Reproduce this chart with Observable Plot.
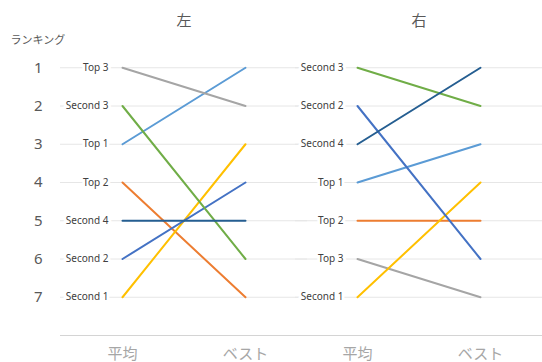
<!DOCTYPE html>
<html><head><meta charset="utf-8">
<script src="https://cdn.jsdelivr.net/npm/d3@7"></script>
<script src="https://cdn.jsdelivr.net/npm/@observablehq/plot@0.6"></script>
<style>body{margin:0;background:#fff}</style>
</head><body><div id="chart"></div>
<script>
const panels = ["左", "右"];
const stages = ["平均", "ベスト"];
const series = ["Top 1", "Top 2", "Top 3", "Second 1", "Second 2", "Second 3", "Second 4"];
const seriesColors = ["#5b9bd5", "#ed7d31", "#a5a5a5", "#ffc000", "#4472c4", "#70ad47", "#255e91"];
const leftAvg = [3, 4, 1, 7, 6, 2, 5];
const leftBest = [1, 7, 2, 3, 4, 6, 5];
const rightAvg = [4, 5, 6, 7, 2, 1, 3];
const rightBest = [3, 5, 7, 4, 6, 2, 1];
const ranks = [1, 2, 3, 4, 5, 6, 7];
const axisLabel = "ランキング";

const panelValues = {"左": [leftAvg, leftBest], "右": [rightAvg, rightBest]};
const rows = [];
panels.forEach(p => series.forEach((s, i) => stages.forEach((st, j) =>
  rows.push({panel: p, series: s, stage: st, rank: panelValues[p][j][i]}))));
const labelRows = rows.filter(d => d.stage === stages[0]);

const chart = Plot.plot({
  width: 542, height: 362,
  marginLeft: 66, marginRight: 6, marginTop: 29, marginBottom: 27,
  style: {fontFamily: "'Noto Sans', 'Noto Sans CJK JP', sans-serif", fontSize: "15px", color: "#595959", background: "#fff"},
  fx: {domain: panels, padding: 0, axis: null},
  x: {domain: stages, padding: 0.455, axis: null},
  y: {domain: [0, 8], reverse: true, ticks: ranks, tickSize: 0, tickPadding: 24, label: null},
  color: {domain: series, range: seriesColors},
  marks: [
    Plot.ruleY(ranks, {stroke: "#e6e6e6", insetLeft: -6, insetRight: -6}),
    Plot.ruleY([8], {stroke: "#d4d4d4", insetLeft: -6, insetRight: -6}),
    Plot.line(rows, {fx: "panel", x: "stage", y: "rank", z: "series", stroke: "series", strokeWidth: 2}),
    Plot.text(labelRows, {fx: "panel", x: "stage", y: "rank", text: "series", textAnchor: "end", dx: -14, fontSize: 10, fill: "#404040", stroke: "white", strokeWidth: 6}),
    Plot.text(panels, {fx: d => d, text: d => d, frameAnchor: "top", lineAnchor: "middle", dy: -8, fontSize: 15}),
    Plot.text(stages, {x: d => d, frameAnchor: "bottom", lineAnchor: "middle", dy: 19, fontSize: 15, fill: "#a6a6a6"}),
    Plot.text([axisLabel], {fx: () => panels[0], text: d => d, frameAnchor: "top-left", lineAnchor: "middle", textAnchor: "start", dx: -56, dy: 11, fontSize: 11})
  ]
});
document.getElementById("chart").appendChild(chart);
</script>
</body></html>
